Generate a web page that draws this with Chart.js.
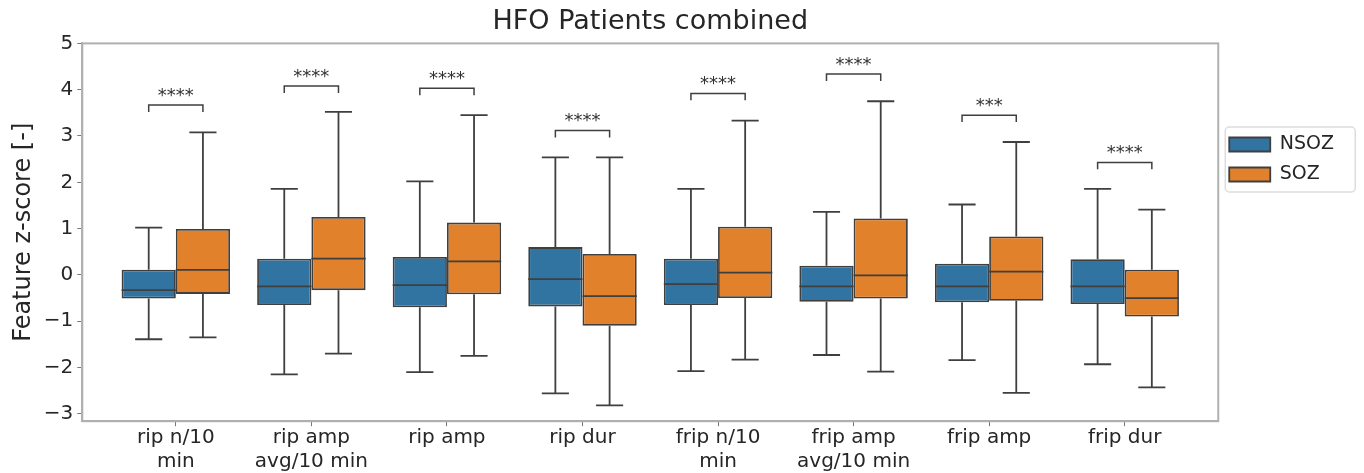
<!DOCTYPE html>
<html>
<head>
<meta charset="utf-8">
<script src="https://cdn.jsdelivr.net/npm/chart.js@4.4.0/dist/chart.umd.min.js"></script>
<style>
html, body { margin: 0; padding: 0; background: #fff; }
#wrap { width: 1364px; height: 473px; }
</style>
</head>
<body>
<div id="wrap"><canvas id="myChart"></canvas></div>
<script>
// kategorie (etykiety osi x, dwie linie)
const categories = [['rip n/10', 'min'], ['rip amp', 'avg/10 min'], ['rip amp'], ['rip dur'],
    ['frip n/10', 'min'], ['frip amp', 'avg/10 min'], ['frip amp'], ['frip dur']];
const yTicks = [-3, -2, -1, 0, 1, 2, 3, 4, 5];

// NSOZ - statystyki pudełek
const nsozMin = [-1.39, -2.15, -2.10, -2.56, -2.08, -1.73, -1.84, -1.93];
const nsozQ1 = [-0.51, -0.65, -0.70, -0.68, -0.65, -0.58, -0.59, -0.63];
const nsozMed = [-0.33, -0.25, -0.22, -0.09, -0.20, -0.25, -0.25, -0.25];
const nsozQ3 = [0.11, 0.35, 0.385, 0.60, 0.35, 0.20, 0.24, 0.34];
const nsozMax = [1.02, 1.86, 2.02, 2.54, 1.86, 1.36, 1.52, 1.86];

// SOZ
const sozMin = [-1.35, -1.70, -1.75, -2.82, -1.83, -2.09, -2.55, -2.43];
const sozQ1 = [-0.41, -0.33, -0.42, -1.10, -0.50, -0.51, -0.56, -0.90];
const sozMed = [0.11, 0.35, 0.29, -0.46, 0.05, -0.01, 0.07, -0.50];
const sozQ3 = [0.99, 1.25, 1.13, 0.45, 1.04, 1.22, 0.83, 0.11];
const sozMax = [3.08, 3.52, 3.45, 2.54, 3.33, 3.75, 2.87, 1.41];

// istotność
const sigStars = ['****', '****', '****', '****', '****', '****', '***', '****'];
const sigY = [3.67, 4.08, 4.03, 3.12, 3.92, 4.34, 3.45, 2.43];

const lineColor = '#3f3f3f';
const font = 'DejaVu Sans';

// wąsy, mediany, ramka i nawiasy
const boxExtras = {
    id: 'boxExtras',
    afterLayout(chart) {
        // legenda niżej, jak w oryginale
        const lg = chart.legend;
        const shift = 124 - lg.top;
        lg.top += shift;
        lg.bottom += shift;
    },
    afterDatasetsDraw(chart) {
        const ctx = chart.ctx;
        const ys = chart.scales.y;
        const stats = [
            [nsozMin, nsozQ1, nsozMed, nsozQ3, nsozMax],
            [sozMin, sozQ1, sozMed, sozQ3, sozMax]
        ];
        ctx.save();
        ctx.strokeStyle = lineColor;
        ctx.lineWidth = 1.8;
        stats.forEach((s, d) => {
            chart.getDatasetMeta(d).data.forEach((bar, i) => {
                const x = bar.x, hw = bar.width / 2;
                const pMin = ys.getPixelForValue(s[0][i]);
                const pQ1 = ys.getPixelForValue(s[1][i]);
                const pMed = ys.getPixelForValue(s[2][i]);
                const pQ3 = ys.getPixelForValue(s[3][i]);
                const pMax = ys.getPixelForValue(s[4][i]);
                ctx.beginPath();
                ctx.moveTo(x, pQ3); ctx.lineTo(x, pMax);
                ctx.moveTo(x - hw / 2, pMax); ctx.lineTo(x + hw / 2, pMax);
                ctx.moveTo(x, pQ1); ctx.lineTo(x, pMin);
                ctx.moveTo(x - hw / 2, pMin); ctx.lineTo(x + hw / 2, pMin);
                ctx.moveTo(x - hw, pMed); ctx.lineTo(x + hw, pMed);
                ctx.stroke();
            });
        });
        // nawiasy z gwiazdkami
        const a = chart.getDatasetMeta(0).data, b = chart.getDatasetMeta(1).data;
        ctx.lineWidth = 1.5;
        ctx.fillStyle = '#333333';
        ctx.font = '18px "' + font + '"';
        ctx.textAlign = 'center';
        ctx.textBaseline = 'alphabetic';
        sigY.forEach((v, i) => {
            const py = ys.getPixelForValue(v);
            const drop = ys.getPixelForValue(v - 0.15);
            ctx.beginPath();
            ctx.moveTo(a[i].x, drop); ctx.lineTo(a[i].x, py);
            ctx.lineTo(b[i].x, py); ctx.lineTo(b[i].x, drop);
            ctx.stroke();
            ctx.fillText(sigStars[i], (a[i].x + b[i].x) / 2, py - 4);
        });
        ctx.restore();
    },
    afterDraw(chart) {
        const ctx = chart.ctx, ca = chart.chartArea;
        ctx.save();
        ctx.strokeStyle = '#b0b0b0';
        ctx.lineWidth = 2;
        ctx.strokeRect(ca.left, ca.top, ca.right - ca.left, ca.bottom - ca.top);
        // ramka legendy
        const hb = chart.legend.legendHitBoxes;
        if (hb && hb.length) {
            const x0 = ca.right + 7, y0 = hb[0].top - 8;
            const last = hb[hb.length - 1];
            const w = 130, h = last.top + last.height - hb[0].top + 16;
            ctx.strokeStyle = '#dddddd';
            ctx.lineWidth = 1.5;
            ctx.beginPath();
            ctx.roundRect(x0, y0, w, h, 4);
            ctx.stroke();
        }
        ctx.restore();
    }
};

const ctx = document.getElementById('myChart').getContext('2d');
const myChart = new Chart(ctx, {
    type: 'bar',
    data: {
        datasets: [{
            label: 'NSOZ',
            data: categories.map((c, i) => ({ x: i, y: [nsozQ1[i], nsozQ3[i]] })),
            backgroundColor: '#3274a1',
            borderColor: lineColor,
            borderWidth: 1.8,
            borderSkipped: false,
            categoryPercentage: 0.8,
            barPercentage: 1.0
        }, {
            label: 'SOZ',
            data: categories.map((c, i) => ({ x: i, y: [sozQ1[i], sozQ3[i]] })),
            backgroundColor: '#e1812c',
            borderColor: lineColor,
            borderWidth: 1.8,
            borderSkipped: false,
            categoryPercentage: 0.8,
            barPercentage: 1.0
        }]
    },
    options: {
        responsive: true,
        maintainAspectRatio: false,
        animation: false,
        layout: { padding: { left: 9, right: 20, top: 0, bottom: 0 } },
        scales: {
            x: {
                type: 'linear',
                min: -0.69,
                max: 7.69,
                offset: false,
                afterBuildTicks: scale => {
                    scale.ticks = categories.map((c, i) => ({ value: i }));
                },
                ticks: {
                    autoSkip: false,
                    maxRotation: 0,
                    color: '#262626',
                    padding: 0,
                    font: { family: font, size: 20, lineHeight: 1.17 },
                    callback: v => categories[v]
                },
                grid: { display: true, drawOnChartArea: false, offset: false, tickLength: 5, color: '#777', tickWidth: 1 },
                border: { display: true, color: '#b0b0b0', width: 2 }
            },
            y: {
                min: -3.16,
                max: 5.0,
                afterBuildTicks: scale => {
                    scale.ticks = yTicks.map(v => ({ value: v }));
                },
                ticks: {
                    color: '#262626',
                    padding: 4,
                    font: { family: font, size: 20 },
                    callback: v => String(v).replace('-', '\u2212')
                },
                title: {
                    display: true,
                    text: 'Feature z-score [-]',
                    color: '#262626',
                    font: { family: font, size: 24 },
                    padding: { top: 0, bottom: 2 }
                },
                grid: { display: true, drawOnChartArea: false, tickLength: 5, color: '#777', tickWidth: 1 },
                border: { display: true, color: '#b0b0b0', width: 2 }
            }
        },
        plugins: {
            title: {
                display: true,
                text: 'HFO Patients combined',
                color: '#262626',
                fullSize: false,
                font: { family: font, size: 27, weight: 'normal' },
                padding: { top: 6, bottom: 5 }
            },
            legend: {
                position: 'right',
                align: 'start',
                labels: {
                    boxWidth: 41,
                    boxHeight: 14,
                    padding: 11,
                    color: '#262626',
                    font: { family: font, size: 19 }
                }
            },
            tooltip: { enabled: false }
        }
    },
    plugins: [boxExtras]
});
</script>
</body>
</html>
